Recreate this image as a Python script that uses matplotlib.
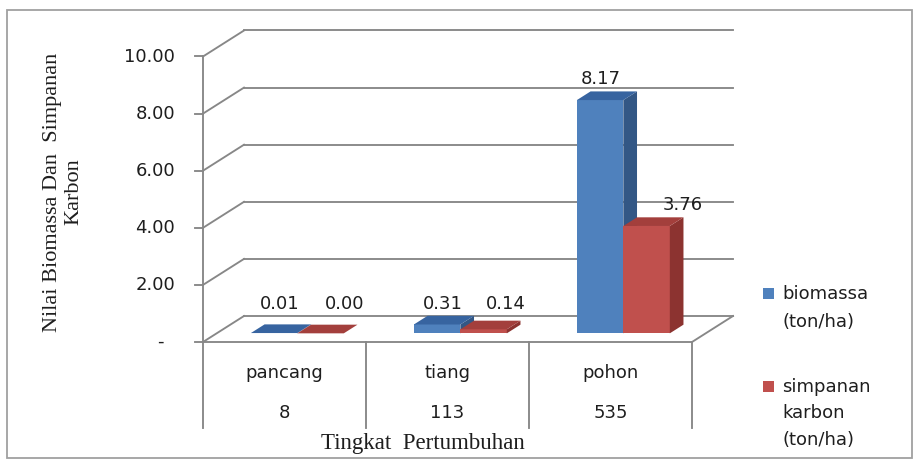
import matplotlib
matplotlib.use("Agg")
import matplotlib.pyplot as plt
from matplotlib.patches import Polygon, Rectangle

# ---- data ----
categories = ["pancang", "tiang", "pohon"]
counts = ["8", "113", "535"]
biomassa = [0.01, 0.31, 8.17]
simpanan_karbon = [0.00, 0.14, 3.76]
y_ticks = [0, 2, 4, 6, 8, 10]
y_tick_labels = ["-", "2.00", "4.00", "6.00", "8.00", "10.00"]
series_names = ["biomassa\n(ton/ha)", "simpanan\nkarbon\n(ton/ha)"]

# ---- style ----
W, H, DPI = 913, 461, 100
PX_X = 163.0      # pixels per category
PX_Y = 28.55      # pixels per value unit
X0_PX, Y0_PX = 203.0, 342.0
DX = 41.0 / PX_X  # oblique depth offset (category units)
DY = 26.0 / PX_Y  # oblique depth offset (value units)
GRID = "#878787"
TXT = "#1e1e1e"
SANS = ["DejaVu Sans"]
SERIF = ["Liberation Serif", "DejaVu Serif"]
FS = 13
front_cols = ["#4F81BD", "#C0504D"]
top_cols = ["#3764A0", "#A33F3C"]
side_cols = ["#335785", "#8C3330"]
BAR_W = 0.285
BAR_PAD = 0.21

fig = plt.figure(figsize=(W / DPI, H / DPI), dpi=DPI)
ax = fig.add_axes([0, 0, 1, 1])
ax.set_xlim(-X0_PX / PX_X, (W - X0_PX) / PX_X)
ax.set_ylim(-(H - Y0_PX) / PX_Y, Y0_PX / PX_Y)
ax.axis("off")

px = lambda p: p / PX_X   # pixel length -> x units
py = lambda p: p / PX_Y   # pixel length -> y units

# outer frame
ax.add_patch(Rectangle((px(7 - X0_PX), -py(458 - Y0_PX)), px(905), py(448),
                       fill=False, ec="#a0a0a0", lw=1.3, zorder=0))

n = len(categories)
ymax = y_ticks[-1]
lw = 1.35
# side wall diagonals and back wall gridlines
for v in y_ticks:
    ax.plot([0, DX], [v, v + DY], color=GRID, lw=lw, zorder=1)
    ax.plot([DX, n + DX], [v + DY, v + DY], color=GRID, lw=lw, zorder=1)
    ax.plot([-px(8), 0], [v, v], color=GRID, lw=lw, zorder=1)
# floor edges
ax.plot([0, n], [0, 0], color=GRID, lw=lw, zorder=1)
ax.plot([n, n + DX], [0, DY], color=GRID, lw=lw, zorder=1)
# front value axis and category table dividers
table_bottom = -py(428 - Y0_PX)
ax.plot([0, 0], [ymax, table_bottom], color=GRID, lw=lw, zorder=1)
for i in range(1, n + 1):
    ax.plot([i, i], [0, table_bottom], color=GRID, lw=lw, zorder=1)

# y tick labels
for v, lab in zip(y_ticks, y_tick_labels):
    if lab == "-":
        ax.text(-px(43), v, lab, ha="center", va="center", fontsize=FS,
                family=SANS, color=TXT)
    else:
        ax.text(-px(28), v, lab, ha="right", va="center", fontsize=FS,
                family=SANS, color=TXT)

# 3-D style bars (oblique projection)
d0 = 1.0 / 3.0
ddx, ddy = DX / 3.0, DY / 3.0
label_shift_px = [[6, 6, 1], [24, 22, 36]]
for i in range(n):
    for j, vals in enumerate([biomassa, simpanan_karbon]):
        v = vals[i]
        x0 = i + BAR_PAD + j * BAR_W + d0 * DX
        y0 = d0 * DY
        y1 = y0 + v
        x1 = x0 + BAR_W
        front = Rectangle((x0, y0), BAR_W, v, fc=front_cols[j], ec="none", zorder=3)
        top = Polygon([(x0, y1), (x1, y1), (x1 + ddx, y1 + ddy), (x0 + ddx, y1 + ddy)],
                      closed=True, fc=top_cols[j], ec="none", zorder=3)
        side = Polygon([(x1, y0), (x1, y1), (x1 + ddx, y1 + ddy), (x1 + ddx, y0 + ddy)],
                       closed=True, fc=side_cols[j], ec="none", zorder=3)
        for p in (front, side, top):
            ax.add_patch(p)
        lx = (x0 + x1) / 2 + px(label_shift_px[j][i])
        ly = max(v, 0.3) + 2 * d0 * DY + py(12.3)
        ax.text(lx, ly, f"{v:.2f}", ha="center", va="center", fontsize=FS,
                family=SANS, color=TXT, zorder=5)

# category table
for i in range(n):
    ax.text(i + 0.5, -py(373 - Y0_PX), categories[i], ha="center", va="center",
            fontsize=FS, family=SANS, color=TXT)
    ax.text(i + 0.5, -py(413 - Y0_PX), counts[i], ha="center", va="center",
            fontsize=FS, family=SANS, color=TXT)

# axis titles
ax.text(px(423 - X0_PX), -py(443 - Y0_PX), "Tingkat  Pertumbuhan", ha="center",
        va="center", fontsize=16.5, family=SERIF, color=TXT)
ax.text(px(63 - X0_PX), py(Y0_PX - 192), "Nilai Biomassa Dan  Simpanan\nKarbon",
        ha="center", va="center", rotation=90, fontsize=16, family=SERIF,
        color=TXT, linespacing=1.2, multialignment="center")

# legend
leg_y = [293, 386]
leg_spacing = [1.72, 1.6]
for j, name in enumerate(series_names):
    cy = Y0_PX - leg_y[j]
    ax.add_patch(Rectangle((px(763 - X0_PX), py(cy - 5.5)), px(11), py(11),
                           fc=front_cols[j], ec="none"))
    ax.text(px(782 - X0_PX), py(cy + 8), name, ha="left", va="top",
            fontsize=FS, family=SANS, color=TXT, linespacing=leg_spacing[j])

fig.savefig("out.png", dpi=DPI)
